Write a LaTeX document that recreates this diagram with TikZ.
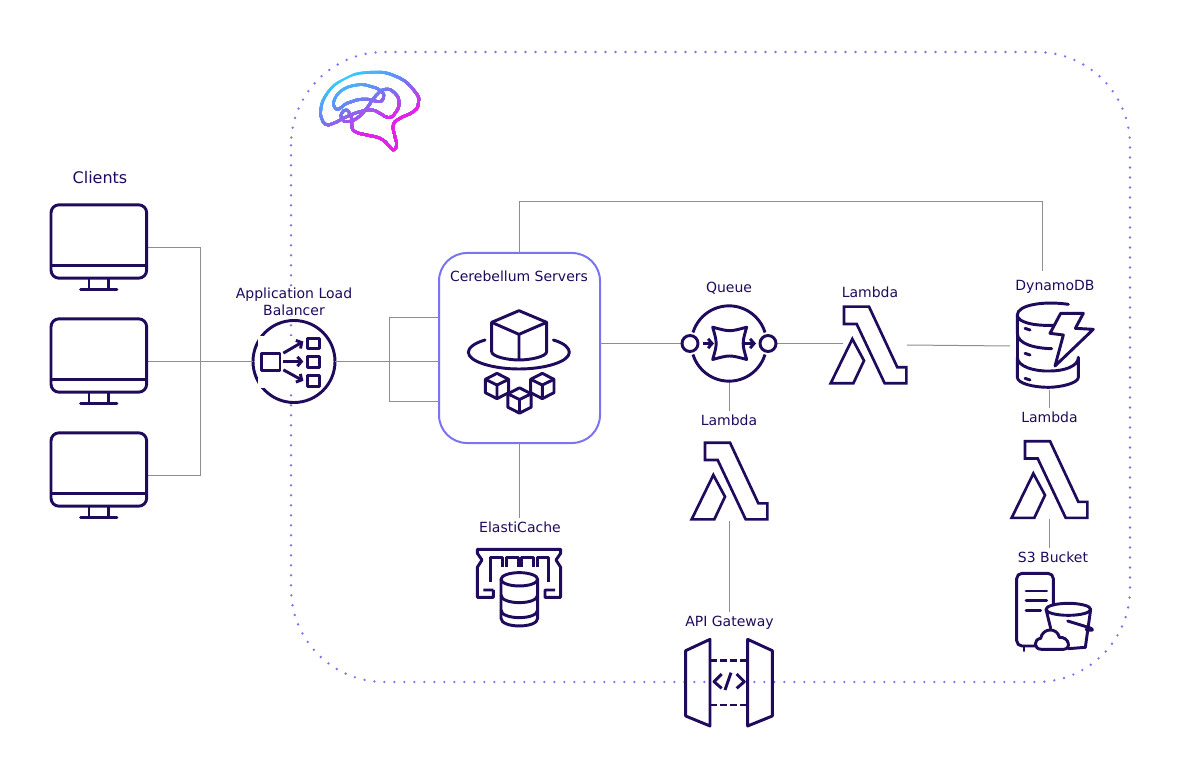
\documentclass[tikz,border=0pt]{standalone}
\usepackage{fontspec}
\setmainfont{DejaVu Sans}
\usetikzlibrary{arrows.meta,positioning,calc}
\definecolor{Ink}{HTML}{1F0A5C}
\definecolor{Iris}{HTML}{7B74F0}
\definecolor{Wire}{HTML}{8E8E8E}
\definecolor{Sky}{HTML}{36C8FF}
\definecolor{Pink}{HTML}{E91FE8}
\newcommand{\brainpath}{
 plot[smooth,tension=0.85] coordinates {(62,195) (75,140) (130,88) (210,67) (290,80) (345,125) (355,160) (340,185) (300,205) (280,225) (285,260) (290,285) (280,300) (265,285) (240,265) (200,255) (165,245) (155,225) (155,205) (140,180) (125,190) (125,205) (140,215) (170,205) (200,175) (225,140) (255,118) (285,130) (297,160) (285,190) (265,203) (240,190) (215,180) (180,185) (140,200) (100,220) (75,222) (62,195)}
 plot[smooth,tension=0.85] coordinates {(100,160) (120,125) (170,105) (215,110) (245,125) (250,145) (235,155) (205,148) (170,150) (140,160) (115,178) (103,170) (100,160)}
}
\newcommand{\brainband}[2]{
 \begin{scope}
 \clip (0,#1) -- (500,#1-250) -- (500,500) -- (0,500) -- cycle;
 \draw[line width=2pt,draw=#2,line join=round] \brainpath;
 \end{scope}
}
\tikzset{
 iconline/.style={draw=Ink, line width=2.2pt, line join=round},
 iconbox/.style 2 args={minimum width=#1*0.75pt, minimum height=#2*0.75pt, inner sep=0pt, outer sep=0pt},
 zoomed/.style 2 args={scale=1/3, shift={(-#1,-#2)}},
 wire/.style={draw=Wire, line width=0.75pt},
 zoneline/.style={draw=Iris, line width=2pt, line cap=round, dash pattern=on 0pt off 7.5pt, rounded corners=70pt},
 caption/.style={text=Ink, font=\fontsize{10.5}{12.75}\selectfont, align=center, inner sep=3pt, outer sep=0pt},
 serverbox/.style={draw=Iris, line width=1.5pt, rounded corners=21pt, fill=white, iconbox={161}{190}},
 pics/monitoricon/.style={code={
 \begin{scope}[zoomed={238.5}{291},iconline]
 \draw[rounded corners=6pt] (93,163) rectangle (380,383);
 \draw (93,345) -- (380,345);
 \draw (207,383) -- (207,417) (265,383) -- (265,417);
 \draw[line cap=round] (182,417) -- (291,417);
 \end{scope}}},
 pics/balancericon/.style={code={
 \begin{scope}[zoomed={822}{630},iconline]
 \fill[white] (715,555) rectangle (905,710);
 \draw (725,605) rectangle (780,657);
 \foreach \ya/\yb in {560/592,615/648,672/705} {\draw (863,\ya) rectangle (898,\yb);}
 \draw[-{Straight Barb[length=3pt,width=7pt]}] (790,605) -- (850,570);
 \draw[-{Straight Barb[length=3pt,width=7pt]}] (790,630) -- (850,630);
 \draw[-{Straight Barb[length=3pt,width=7pt]}] (790,655) -- (850,688);
 \end{scope}}},
 pics/cubeicon/.style={code={
 \begin{scope}[scale=1/3,iconline]
 \draw (0,-38) -- (35,-20) -- (35,20) -- (0,38) -- (-35,20) -- (-35,-20) -- cycle;
 \draw (-35,-20) -- (0,-3) -- (35,-20) (0,-3) -- (0,38);
 \end{scope}}},
 pics/fleeticon/.style={code={
 \begin{scope}[zoomed={268.5}{309},iconline]
 \draw (267,197) -- (350,232) -- (350,320) .. controls (350,335) and (300,345) .. (267,345) .. controls (234,345) and (185,335) .. (185,320) -- (185,232) -- cycle;
 \draw (185,232) -- (267,268) -- (350,232) (267,268) -- (267,345);
 \draw[line cap=round] (165,285) .. controls (130,295) and (115,310) .. (115,322) .. controls (115,350) and (190,372) .. (267,372) .. controls (345,372) and (418,350) .. (418,322) .. controls (418,310) and (405,295) .. (370,285);
 \end{scope}
 \pic at (-22.5,38) {cubeicon};
 \pic at (0,52.5) {cubeicon};
 \pic at (22.8,38) {cubeicon};}},
 pics/queueicon/.style={code={
 \begin{scope}[zoomed={177}{219},iconline]
 \draw (69,186) arc[start angle=197,end angle=343,radius=113];
 \draw (285,252) arc[start angle=17,end angle=163,radius=113];
 \draw (60,219) circle[radius=24] (294,219) circle[radius=24];
 \draw[-{Straight Barb[length=3pt,width=7pt]}] (98,219) -- (132,219);
 \draw[-{Straight Barb[length=3pt,width=7pt]}] (220,219) -- (258,219);
 \draw (128,170) .. controls (179,184) .. (230,170) .. controls (216,219) .. (230,267) .. controls (179,253) .. (128,267) .. controls (142,219) .. (128,170) -- cycle;
 \end{scope}}},
 pics/lambdaicon/.style={code={
 \begin{scope}[zoomed={148.5}{213},iconline,line width=2pt,line join=miter]
 \draw (75,98) -- (150,98) -- (235,280) -- (262,280) -- (262,328) -- (197,328) -- (113,150) -- (75,150) -- cycle;
 \draw (100,195) -- (135,260) -- (103,328) -- (35,328) -- cycle;
 \end{scope}}},
 pics/dynamoicon/.style={code={
 \begin{scope}[zoomed={165}{228},iconline,line cap=round]
 \draw (205,103) .. controls (130,92) and (52,105) .. (52,135) .. controls (52,158) and (105,168) .. (160,166);
 \draw (52,135) -- (52,190) .. controls (52,222) and (105,235) .. (155,236);
 \draw (52,190) -- (52,262);
 \draw (52,262) .. controls (52,290) and (105,305) .. (150,303) .. controls (190,303) and (235,290) .. (235,262) -- (235,322) .. controls (235,340) and (180,352) .. (145,352) .. controls (100,352) and (52,340) .. (52,322) -- (52,262);
 \draw (75,175) -- (90,180) (75,250) -- (90,255) (75,325) -- (90,330);
 \draw (182,130) -- (250,130) -- (226,175) -- (280,178) -- (165,288) -- (190,195) -- (150,190) -- cycle;
 \end{scope}}},
 pics/bucketicon/.style={code={
 \begin{scope}[zoomed={165}{214.5},iconline,line cap=round]
 \draw[rounded corners=4pt] (105,318) -- (50,318) -- (50,100) -- (160,100) -- (160,195);
 \draw (72,318) -- (72,332);
 \draw (78,153) -- (140,153) (78,182) -- (140,182) (78,212) -- (122,212);
 \draw (205,208) ellipse[x radius=67,y radius=18];
 \draw (138,208) -- (152,265) (272,208) -- (256,322) -- (205,326);
 \draw (203,243) -- (265,262) .. controls (285,268) and (280,275) .. (258,268);
 \draw[fill=white] (125,328) .. controls (100,328) and (100,298) .. (122,295) .. controls (128,262) and (172,262) .. (178,292) .. controls (208,290) and (215,328) .. (190,328) -- cycle;
 \end{scope}}},
 pics/gatewayicon/.style={code={
 \begin{scope}[zoomed={208.5}{210},iconline]
 \fill[white] (155,180) rectangle (258,248);
 \draw (77,122) -- (150,88) -- (150,348) -- (77,318) -- cycle;
 \draw (263,88) -- (337,122) -- (337,318) -- (263,348) -- cycle;
 \draw[dash pattern=on 5pt off 2.6pt] (150,152) -- (263,152);
 \draw[dash pattern=on 5pt off 2.6pt] (150,285) -- (263,285);
 \draw (185,192) -- (162,215) -- (185,235) (230,192) -- (253,215) -- (230,235);
 \draw (213,188) -- (195,240);
 \end{scope}}},
 pics/cacheicon/.style={code={
 \begin{scope}[zoomed={177}{232},iconline]
 \draw (100,240) -- (70,240) (100,240) -- (100,262) -- (52,262) -- (52,172) -- (66,150) -- (52,130) -- (52,118) -- (302,118) -- (302,130) -- (288,150) -- (302,172) -- (302,262) -- (255,262) -- (255,240) -- (285,240);
 \draw (92,215) -- (92,142) -- (128,142) -- (128,170);
 \draw (140,170) -- (140,142) -- (175,142) -- (175,170);
 \draw (185,170) -- (185,142) -- (220,142) -- (220,170);
 \draw (232,170) -- (232,142) -- (265,142) -- (265,215);
 \draw[fill=white] (123,208) -- (123,325) .. controls (123,340) and (150,348) .. (178,348) .. controls (206,348) and (233,340) .. (233,325) -- (233,208);
 \draw[fill=white] (178,208) ellipse[x radius=55,y radius=20];
 \draw (123,255) .. controls (123,270) and (150,278) .. (178,278) .. controls (206,278) and (233,270) .. (233,255);
 \draw (123,300) .. controls (123,315) and (150,323) .. (178,323) .. controls (206,323) and (233,315) .. (233,300);
 \end{scope}}}
}
\begin{document}
\begin{tikzpicture}[x=0.75pt,y=-0.75pt]
\useasboundingbox (0,0) rectangle (1182,777);
\draw[zoneline] (291,52) rectangle (1130,682);

\begin{scope}[shift={(300,50)},scale=1/3]
\foreach \s in {0,...,11} {\pgfmathsetmacro\tband{150+8*\s}\pgfmathsetmacro\pct{100-8.3*\s}\edef\next{\noexpand\brainband{\tband}{Sky!\pct!Iris}}\next}
\foreach \s in {0,...,12} {\pgfmathsetmacro\tband{246+8*\s}\pgfmathsetmacro\pct{100-8.3*\s}\edef\next{\noexpand\brainband{\tband}{Iris!\pct!Pink}}\next}
\end{scope}

\node[iconbox={96}{86}] (client1) at (99.5,247.5) {};
\node[iconbox={96}{86}] (client2) at (99.5,361.5) {};
\node[iconbox={96}{86}] (client3) at (99.5,475.5) {};
\node[circle,iconline,iconbox={82}{82}] (alb) at (294,361.5) {};
\node[serverbox] (servers) at (519.5,348) {};
\node[iconbox={93}{76}] (queue) at (729,343.5) {};
\node[iconbox={77}{79}] (lamA) at (868.5,345) {};
\node[iconbox={77}{79}] (lamB) at (729.5,481) {};
\node[iconbox={77}{79}] (lamC) at (1049.5,479.5) {};
\node[iconbox={90}{88}] (dynamo) at (1055,346) {};
\node[iconbox={78}{77}] (bucket) at (1055,611.5) {};
\node[iconbox={89}{84}] (gateway) at (729.5,680) {};
\node[iconbox={85}{81}] (cache) at (519,587.3) {};

\node[caption,font=\fontsize{12}{14}\selectfont] (clientslbl) at (100,178) {Clients};
\node[caption,fill=white,inner sep=0pt] (alblbl) at (294,302) {Application Load\\Balancer};
\node[caption] (serverslbl) at (519,276) {Cerebellum Servers};
\node[caption] (queuelbl) at (729,288) {Queue};
\node[caption] (lamAlbl) at (870,292.5) {Lambda};
\node[caption] (lamBlbl) at (729,420.5) {Lambda};
\node[caption] (lamClbl) at (1049.5,417.5) {Lambda};
\node[caption] (dynamolbl) at (1055,286.5) {DynamoDB};
\node[caption] (bucketlbl) at (1053,557.5) {S3 Bucket};
\node[caption] (cachelbl) at (520,527.5) {ElastiCache};
\node[caption] (gatewaylbl) at (729.5,622.5) {API Gateway};

\coordinate (bus) at (200,361.5);
\coordinate (busup) at (389,318);
\coordinate (busdown) at (389,401);
\coordinate (toprun) at (1042,201.5);
\coordinate (topend) at (1042,271);
\coordinate (lamAin) at (843,343.5);

\draw[wire] (client1.east) -| (bus);
\draw[wire] (client3.east) -| (bus);
\draw[wire] (client2.east) -- (alb.west);
\draw[wire] (alb.east) -- (alb.east -| servers.west);
\draw[wire] (busup -| servers.west) -- (busup) -- (busdown) -- (busdown -| servers.west);
\draw[wire] (servers.north) |- (toprun) -- (topend);
\draw[wire] (servers.south) -- (cachelbl.north -| servers.south);
\draw[wire] (queue.west -| servers.east) -- (queue.west);
\draw[wire] (queue.east) -- (lamAin);
\draw[wire] (queue.south) -- (lamBlbl.north);
\draw[wire] (lamB.south) -- (gatewaylbl.north);
\draw[wire] (lamA.east) -- (dynamo.west);
\draw[wire] (lamClbl.north |- dynamo.south) -- (lamClbl.north);
\draw[wire] (lamC.south) -- (lamC.south |- bucketlbl.north);

\pic at (client1.center) {monitoricon};
\pic at (client2.center) {monitoricon};
\pic at (client3.center) {monitoricon};
\pic at (alb.center) {balancericon};
\pic at (servers.center) {fleeticon};
\pic at (queue.center) {queueicon};
\pic at (lamA.center) {lambdaicon};
\pic at (lamB.center) {lambdaicon};
\pic at (lamC.center) {lambdaicon};
\pic at (dynamo.center) {dynamoicon};
\pic at (bucket.center) {bucketicon};
\pic at (gateway.center) {gatewayicon};
\pic at (cache.center) {cacheicon};
\end{tikzpicture}
\end{document}
